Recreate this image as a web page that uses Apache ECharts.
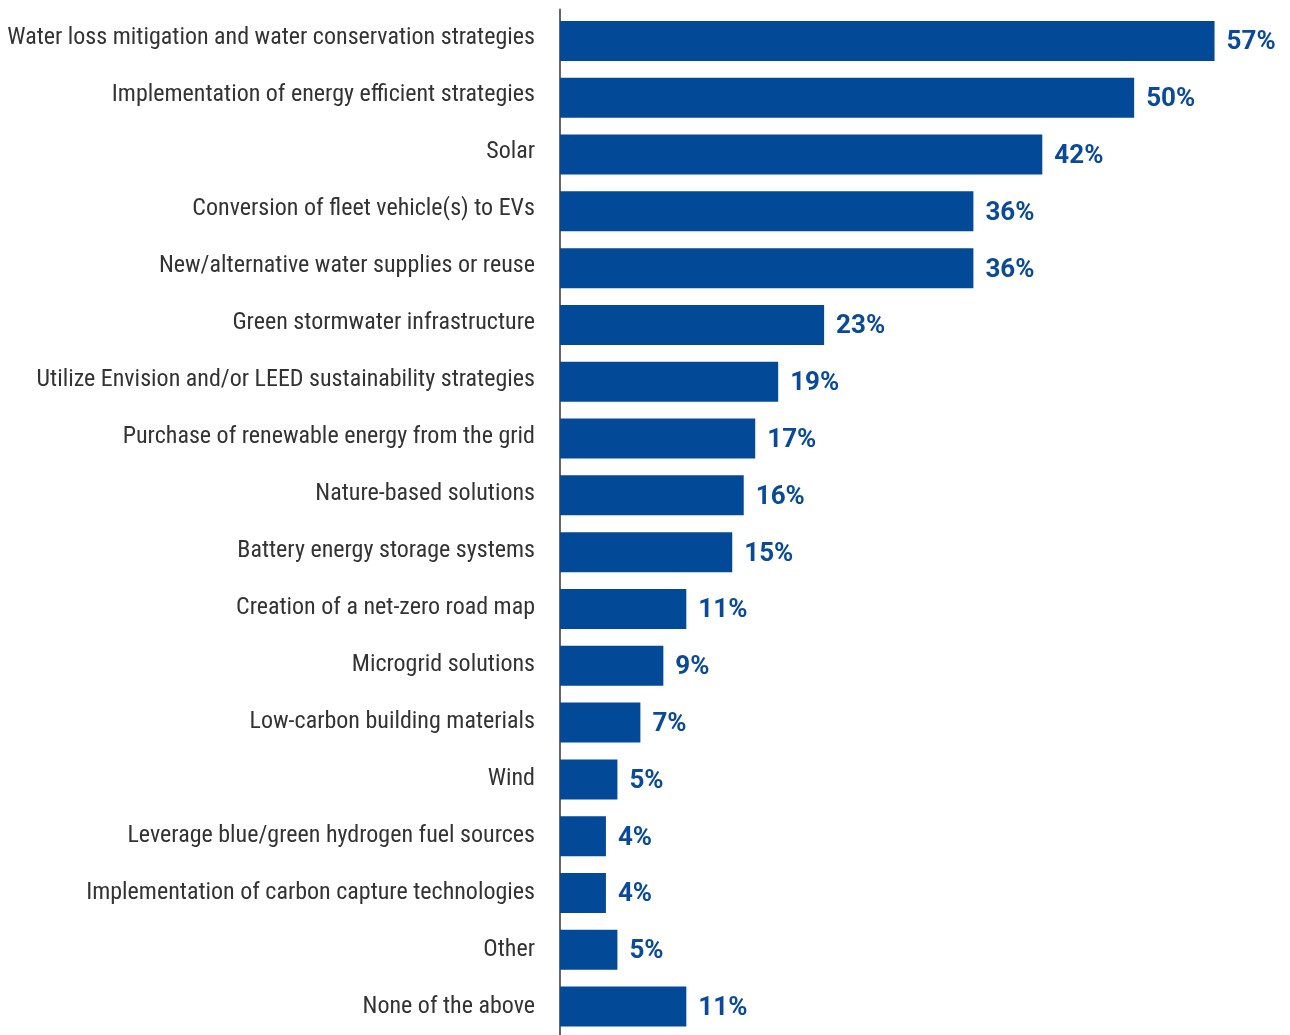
<!DOCTYPE html>
<html>
<head>
<meta charset="utf-8">
<script src="https://cdn.jsdelivr.net/npm/echarts@6/dist/echarts.min.js"></script>
<style>
  html, body { margin: 0; padding: 0; background: #ffffff; }
  #chart { width: 1290px; height: 1035px; }
</style>
</head>
<body>
<div id="chart"></div>
<script>
// Strategies, listed top to bottom
const categories = [
  'Water loss mitigation and water conservation strategies',
  'Implementation of energy efficient strategies',
  'Solar',
  'Conversion of fleet vehicle(s) to EVs',
  'New/alternative water supplies or reuse',
  'Green stormwater infrastructure',
  'Utilize Envision and/or LEED sustainability strategies',
  'Purchase of renewable energy from the grid',
  'Nature-based solutions',
  'Battery energy storage systems',
  'Creation of a net-zero road map',
  'Microgrid solutions',
  'Low-carbon building materials',
  'Wind',
  'Leverage blue/green hydrogen fuel sources',
  'Implementation of carbon capture technologies',
  'Other',
  'None of the above'
];

// Share of respondents (%)
const shares = [57, 50, 42, 36, 36, 23, 19, 17, 16, 15, 11, 9, 7, 5, 4, 4, 5, 11];

const FONT = '"Roboto Condensed", "Liberation Sans Narrow", "DejaVu Sans Condensed", Roboto, sans-serif';
const BLUE = '#024a97';

const chart = echarts.init(document.getElementById('chart'), null, { renderer: 'canvas' });

chart.setOption({
  animation: false,
  grid: [
    // bars
    { left: 560, width: 689, top: 12.5, bottom: -2.5, containLabel: false },
    // category captions and the vertical rule, on a slightly looser row pitch
    { left: 560, width: 689, top: 9.6, bottom: -7.1, containLabel: false }
  ],
  xAxis: [
    { type: 'value', gridIndex: 0, min: 0, max: 60, show: false },
    { type: 'value', gridIndex: 1, min: 0, max: 60, show: false }
  ],
  yAxis: [
    {
      type: 'category',
      gridIndex: 0,
      data: categories,
      inverse: true,
      axisLine: { show: false },
      axisTick: { show: false },
      axisLabel: { show: false }
    },
    {
      type: 'category',
      gridIndex: 1,
      data: categories,
      inverse: true,
      axisLine: { show: true, lineStyle: { color: '#666666', width: 2 } },
      axisTick: { show: false },
      axisLabel: {
        margin: 25,
        color: '#333333',
        fontSize: 24,
        fontFamily: FONT
      }
    }
  ],
  series: [{
    type: 'bar',
    xAxisIndex: 0,
    yAxisIndex: 0,
    data: shares,
    barWidth: 40,
    z: 1,
    itemStyle: { color: BLUE },
    label: {
      show: true,
      position: 'right',
      distance: 12,
      offset: [0, 2],
      formatter: '{c}%',
      color: '#0a4a9a',
      fontSize: 26,
      fontWeight: 'bold',
      fontFamily: 'Roboto, sans-serif'
    }
  }]
});
</script>
</body>
</html>
